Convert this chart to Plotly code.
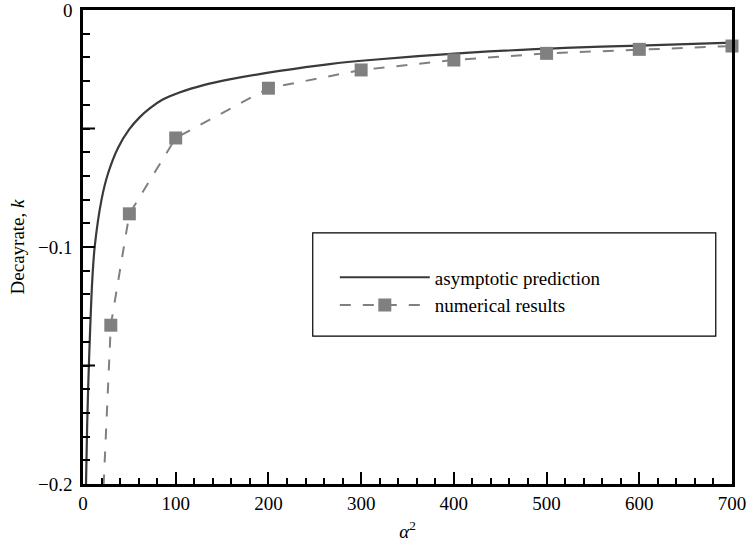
import plotly.graph_objects as go

# asymptotic prediction
asym_alpha2 = [3, 4.5, 6.5, 10, 12.6, 20, 27, 38, 50, 61, 72, 86, 104, 131, 158, 212, 266, 310, 417, 520, 600, 700]
asym_k = [-0.205, -0.175, -0.148, -0.114, -0.100, -0.080, -0.069, -0.058, -0.0503, -0.0453, -0.0415,
          -0.0378, -0.0348, -0.0316, -0.0293, -0.0257, -0.0228, -0.0211, -0.018, -0.016, -0.015, -0.0138]

# numerical results
num_alpha2 = [20, 30, 50, 100, 200, 300, 400, 500, 600, 700]
num_k = [-0.22, -0.133, -0.086, -0.054, -0.033, -0.0253, -0.0211, -0.0183, -0.0166, -0.0152]

x_ticks = [0, 100, 200, 300, 400, 500, 600, 700]
y_ticks = [0, -0.1, -0.2]
y_ticktext = ["0", "\u22120.1", "\u22120.2"]
y_mid_ticks = [-0.05, -0.15]

FONT = "Liberation Serif, Times New Roman, serif"
GRAY = "#808080"
DARK = "#3a3a3a"

fig = go.Figure()

fig.add_trace(go.Scatter(
    x=asym_alpha2, y=asym_k, mode="lines", name="asymptotic prediction",
    line=dict(color=DARK, width=2.2, shape="spline", smoothing=0.9),
))

# off-chart leading segment of the numerical curve (clipped by the axes)
fig.add_trace(go.Scatter(
    x=num_alpha2[:2], y=num_k[:2], mode="lines", showlegend=False, hoverinfo="skip",
    line=dict(color=GRAY, width=2, dash="11px,12px"),
))

fig.add_trace(go.Scatter(
    x=num_alpha2[1:], y=num_k[1:], mode="lines+markers", name="numerical results",
    line=dict(color=GRAY, width=2, dash="11px,12px"),
    marker=dict(symbol="square", size=13, color=GRAY),
    cliponaxis=False,
))

# legend frame
fig.add_shape(type="rect", xref="paper", yref="paper",
              x0=0.354, x1=0.975, y0=0.312, y1=0.530,
              line=dict(color="black", width=1.2), fillcolor="rgba(0,0,0,0)")

# unlabelled major ticks on the y axis
for v in y_mid_ticks:
    fig.add_shape(type="line", xref="x domain", yref="y",
                  x0=0, x1=12 / 649, y0=v, y1=v,
                  line=dict(color="black", width=2))

axis_common = dict(
    showgrid=False, zeroline=False, showline=True, linecolor="black", linewidth=2.5,
    mirror=True, ticks="inside", tickcolor="black", tickwidth=2, ticklen=12,
    tickfont=dict(family=FONT, size=19, color="black"), automargin=False,
    ticklabeloverflow="allow",
)

fig.update_xaxes(
    range=[0, 700], tickvals=x_ticks,
    minor=dict(dtick=20, ticks="inside", ticklen=6, tickwidth=1.5, tickcolor="black"),
    title=dict(text="<i>\u03b1</i><sup>2</sup>", font=dict(family=FONT, size=19, color="black"), standoff=13),
    **axis_common,
)
fig.update_yaxes(
    range=[-0.2, 0], tickvals=y_ticks, ticktext=y_ticktext, ticklabelstandoff=4,
    minor=dict(dtick=0.01, ticks="inside", ticklen=7, tickwidth=1.5, tickcolor="black"),
    title=dict(text="Decayrate, <i>k</i>", font=dict(family=FONT, size=19, color="black"), standoff=9),
    **axis_common,
)

fig.update_layout(
    width=748, height=547,
    margin=dict(l=83, r=16, t=10, b=63),
    paper_bgcolor="white", plot_bgcolor="white",
    font=dict(family=FONT, size=19, color="black"),
    legend=dict(x=0.388, y=0.476, xanchor="left", yanchor="top",
                bgcolor="rgba(0,0,0,0)", borderwidth=0,
                itemwidth=90, tracegroupgap=0,
                font=dict(family=FONT, size=19, color="black")),
    showlegend=True,
)

fig.write_html("out.html", config={"displayModeBar": False},
               post_script="document.body.style.margin='0';")
